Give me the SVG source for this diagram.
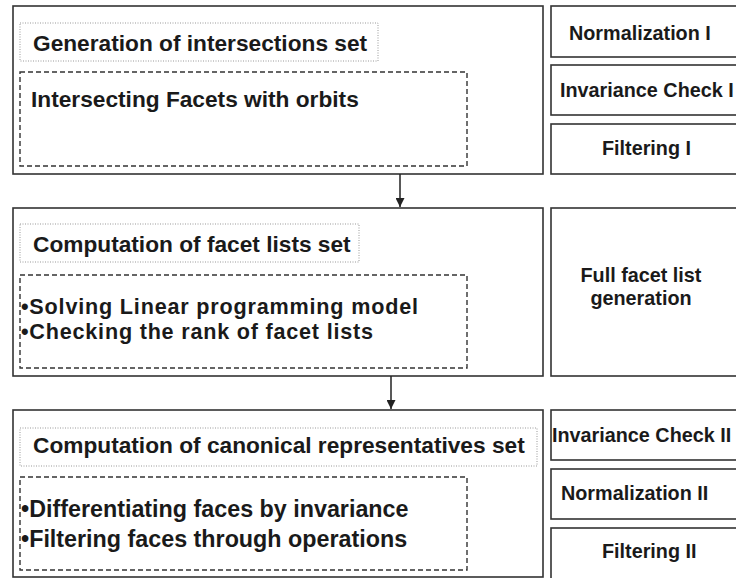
<svg xmlns="http://www.w3.org/2000/svg" width="736" height="578" viewBox="0 0 736 578">
<style>
.box{fill:#fff;stroke:#333;stroke-width:1.6}
.title{fill:none;stroke:#999;stroke-width:1;stroke-dasharray:1 1.5}
.dash{fill:none;stroke:#333;stroke-width:1.4;stroke-dasharray:5 3}
.t{font-family:"Liberation Sans",Arial,sans-serif;font-weight:bold;font-size:22.7px;fill:#1a1a1a}
.b{font-family:"Liberation Sans",Arial,sans-serif;font-weight:bold;font-size:23.3px;fill:#1a1a1a}
.b2{font-family:"Liberation Sans",Arial,sans-serif;font-weight:bold;font-size:21.6px;fill:#1a1a1a}
.r{font-family:"Liberation Sans",Arial,sans-serif;font-weight:bold;font-size:19.8px;fill:#1a1a1a}
.conn{stroke:#222;stroke-width:1.5;fill:none}
</style>
<defs>
<marker id="ah" viewBox="0 0 10 10" refX="10" refY="5" markerWidth="9" markerHeight="9" markerUnits="userSpaceOnUse" orient="auto">
<path d="M0,0 L10,5 L0,10 Z" fill="#222"/>
</marker>
</defs>
<rect width="736" height="578" fill="#fff"/>

<g id="stage1">
<rect class="box" x="13" y="6" width="530" height="168"/>
<rect class="title" x="20" y="23" width="358" height="38"/>
<text class="t" x="33" y="51">Generation of intersections set</text>
<rect class="dash" x="20" y="72" width="447" height="94"/>
<text class="t" x="31" y="107">Intersecting Facets with orbits</text>
</g>

<g id="normalization1">
<rect class="box" x="551" y="6" width="200" height="51"/>
<text class="r" x="569" y="40">Normalization I</text>
</g>
<g id="invariance1">
<rect class="box" x="551" y="65" width="200" height="50"/>
<text class="r" x="560" y="97">Invariance Check I</text>
</g>
<g id="filtering1">
<rect class="box" x="551" y="124" width="200" height="50"/>
<text class="r" x="602" y="155">Filtering I</text>
</g>

<g id="stage2">
<rect class="box" x="13" y="208" width="530" height="168"/>
<rect class="title" x="20" y="224" width="339" height="38"/>
<text class="t" x="33" y="252">Computation of facet lists set</text>
<rect class="dash" x="20" y="275" width="447" height="93"/>
<text class="b2" x="21" y="314" textLength="397">•Solving Linear programming model</text>
<text class="b2" x="21" y="339" textLength="352">•Checking the rank of facet lists</text>
</g>

<g id="fullfacet">
<rect class="box" x="551" y="208" width="200" height="168"/>
<text class="r" x="641" y="282" text-anchor="middle">Full facet list</text>
<text class="r" x="641" y="305" text-anchor="middle">generation</text>
</g>

<g id="stage3">
<rect class="box" x="13" y="410" width="530" height="167"/>
<rect class="title" x="20" y="428" width="517" height="38"/>
<text class="t" x="33" y="453">Computation of canonical representatives set</text>
<rect class="dash" x="20" y="477" width="447" height="93"/>
<text class="b" x="21" y="517">•Differentiating faces by invariance</text>
<text class="b" x="21" y="547">•Filtering faces through operations</text>
</g>

<g id="invariance2">
<rect class="box" x="551" y="410" width="200" height="50"/>
<text class="r" x="552" y="442">Invariance Check II</text>
</g>
<g id="normalization2">
<rect class="box" x="551" y="469" width="200" height="50"/>
<text class="r" x="561" y="500">Normalization II</text>
</g>
<g id="filtering2">
<rect class="box" x="551" y="528" width="200" height="60"/>
<text class="r" x="602" y="558">Filtering II</text>
</g>

<g id="connectors">
<line class="conn" x1="400" y1="174" x2="400" y2="207" marker-end="url(#ah)"/>
<line class="conn" x1="391" y1="376" x2="391" y2="409" marker-end="url(#ah)"/>
</g>
</svg>
